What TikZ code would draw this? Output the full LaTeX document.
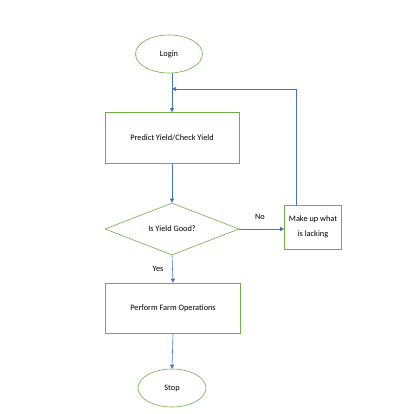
\documentclass[tikz,border=0pt]{standalone}
\usepackage{fontspec}
\setmainfont{Carlito}
\usetikzlibrary{shapes.geometric,arrows.meta}
\definecolor{gline}{RGB}{112,173,71}
\definecolor{bline}{RGB}{68,114,196}
\begin{document}
\begin{tikzpicture}[x=1pt,y=-1pt,
  every node/.style={font=\fontsize{8.3}{15}\selectfont},
  term/.style={draw=gline,ellipse,minimum width=67pt,minimum height=38pt,inner sep=0pt,line width=0.6pt},
  procbox/.style={draw=gline,rectangle,minimum width=134pt,minimum height=51pt,inner sep=0pt,line width=0.6pt},
  decide/.style={draw=gline,diamond,aspect=2.6,minimum width=134pt,minimum height=52pt,inner sep=0pt,line width=0.6pt},
  conn/.style={draw=bline,line width=0.6pt,-{Triangle[length=4pt,width=4pt]}},
  lbl/.style={inner sep=1pt}]
\useasboundingbox (0,0) rectangle (420,414);
\node[term] (login) at (169,54) {Login};
\node[procbox] (predict) at (172,138) {Predict Yield/Check Yield};
\node[decide] (good) at (172,229) {Is Yield Good?};
\node[procbox,minimum width=57pt,minimum height=44pt,align=center] (makeup) at (313,227) {Make up what\\is lacking};
\node[procbox,minimum width=135pt,minimum height=50pt] (perform) at (173,308) {Perform Farm Operations};
\node[term,minimum width=68pt] (stop) at (172,388) {Stop};
\coordinate (corner) at (296.5,89);
\coordinate (join) at (172,89);
\draw[conn] (login.south -| predict.north) -- (predict.north);
\draw[conn] (predict.south) -- (good.north);
\draw[conn] (good.east) -- (good.east -| makeup.west);
\draw[conn] (makeup.north -| corner) -- (corner) -- (join);
\draw[conn] (good.south) -- (perform.north);
\draw[conn] (perform.south) -- (stop.north);
\node[lbl] (no) at (260,217) {No};
\node[lbl] (yes) at (158,269) {Yes};
\end{tikzpicture}
\end{document}
